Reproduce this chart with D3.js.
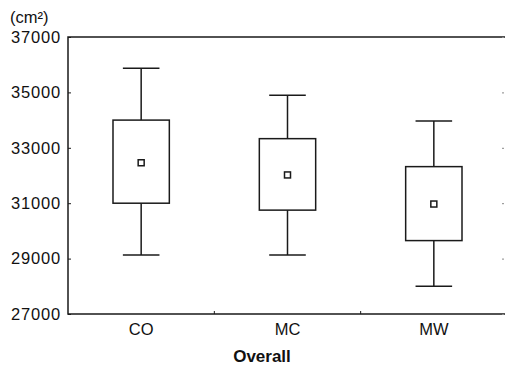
<!DOCTYPE html>
<html><head><meta charset="utf-8">
<script src="https://cdn.jsdelivr.net/npm/d3@7"></script>
<style>
html,body{margin:0;padding:0;background:#fff;}
svg{display:block;}
text{font-family:"Liberation Sans",Arial,Helvetica,sans-serif;fill:#111;}
</style></head>
<body>
<svg id="chart" width="505" height="366"></svg>
<script>
const categories = ["CO", "MC", "MW"];
const whiskerHigh = [35870, 34900, 33970];
const boxHigh = [34000, 33330, 32320];
const meanValues = [32460, 32020, 30970];
const boxLow = [31000, 30750, 29650];
const whiskerLow = [29130, 29130, 28000];
const yTicks = [27000, 29000, 31000, 33000, 35000, 37000];
const yUnit = "(cm²)";
const xTitle = "Overall";

(function () {
const svg = d3.select("#chart");
const pL = 68, pT = 37, pR = 507, pB = 314;
const x = d3.scaleBand().domain(categories).range([pL, pR]).padding(0);
const y = d3.scaleLinear().domain([27000, 37000]).range([pB, pT]);
const bw = x.bandwidth();
const stroke = "#1a1a1a";

svg.append("path")
  .attr("d", `M${pR},${pT}H${pL}V${pB}H${pR}`)
  .attr("fill", "none").attr("stroke", stroke).attr("stroke-width", 1.5);

const yAxis = d3.axisLeft(y).tickValues(yTicks).tickSize(-3).tickPadding(7).tickFormat(d3.format("d"));
const ya = svg.append("g").attr("transform", `translate(${pL},0)`).call(yAxis);
ya.select(".domain").remove();
ya.selectAll(".tick line").attr("stroke", stroke);
ya.selectAll(".tick text").attr("font-size", 16.5).attr("letter-spacing", 0.8).attr("fill", "#111")
  .attr("font-family", "'Liberation Sans',Arial,sans-serif");

const yr = svg.append("g").attr("transform", `translate(${pR - 3},0)`).call(d3.axisRight(y).tickValues(yTicks).tickSize(-2).tickFormat(""));
yr.select(".domain").remove();
yr.selectAll(".tick line").attr("stroke", "#888");

const xa = svg.append("g").attr("transform", `translate(0,${pB})`)
  .call(d3.axisBottom(x).tickSize(0).tickPadding(9));
xa.select(".domain").remove();
xa.selectAll(".tick text").attr("font-size", 16.5).attr("fill", "#111")
  .attr("font-family", "'Liberation Sans',Arial,sans-serif");
svg.append("g").selectAll("line").data(categories.slice(1)).join("line")
  .attr("x1", d => x(d)).attr("x2", d => x(d))
  .attr("y1", pB).attr("y2", pB - 3)
  .attr("stroke", stroke).attr("stroke-width", 1);

const g = svg.append("g");
categories.forEach((c, i) => {
  const cx = x(c) + bw / 2;
  const boxW = bw * 0.385, capW = bw * 0.25;
  g.append("line").attr("x1", cx).attr("x2", cx).attr("y1", y(whiskerHigh[i])).attr("y2", y(boxHigh[i]))
    .attr("stroke", stroke).attr("stroke-width", 1.5);
  g.append("line").attr("x1", cx).attr("x2", cx).attr("y1", y(boxLow[i])).attr("y2", y(whiskerLow[i]))
    .attr("stroke", stroke).attr("stroke-width", 1.5);
  g.append("line").attr("x1", cx - capW / 2).attr("x2", cx + capW / 2).attr("y1", y(whiskerHigh[i])).attr("y2", y(whiskerHigh[i]))
    .attr("stroke", stroke).attr("stroke-width", 1.5);
  g.append("line").attr("x1", cx - capW / 2).attr("x2", cx + capW / 2).attr("y1", y(whiskerLow[i])).attr("y2", y(whiskerLow[i]))
    .attr("stroke", stroke).attr("stroke-width", 1.5);
  g.append("rect").attr("x", cx - boxW / 2).attr("y", y(boxHigh[i]))
    .attr("width", boxW).attr("height", y(boxLow[i]) - y(boxHigh[i]))
    .attr("fill", "#fff").attr("stroke", stroke).attr("stroke-width", 1.5);
  g.append("rect").attr("x", cx - 3).attr("y", y(meanValues[i]) - 3)
    .attr("width", 6).attr("height", 6)
    .attr("fill", "#fff").attr("stroke", stroke).attr("stroke-width", 1.5);
});

svg.append("text").attr("x", 10).attr("y", 23).attr("font-size", 16.5).text(yUnit);
svg.append("text").attr("x", 262).attr("y", 362).attr("text-anchor", "middle")
  .attr("font-size", 17).attr("font-weight", "bold").text(xTitle);
})();
</script>
</body></html>
